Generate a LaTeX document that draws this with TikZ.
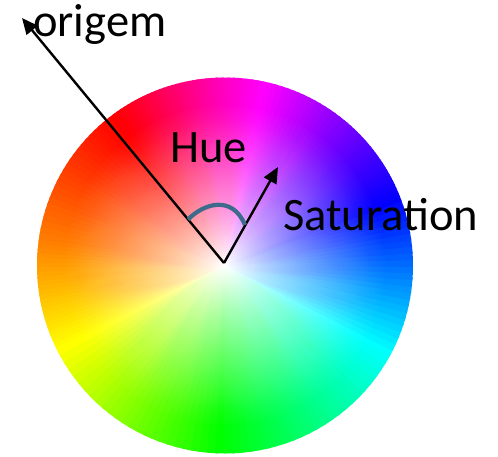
\documentclass[tikz,border=0pt]{standalone}
\usepackage{fontspec}
\setmainfont{Carlito}
\usetikzlibrary{arrows.meta}
\definecolor{huearc}{RGB}{62,106,140}
\tikzset{
  vetor/.style={-{Triangle[length=16pt, width=14pt]}, line width=2.4pt, black},
  rotulo/.style={font=\fontsize{46.5}{56}\selectfont, inner sep=0pt, anchor=base west},
  arcohue/.style={line width=4.2pt, draw=huearc}
}
% fatia da roda: angulo inicial, angulo final, matiz
\newcommand{\fatia}[3]{
  \definecolor{fatiacor}{Hsb}{#3,1,1}
  \fill[fatiacor] (W) -- ++(#1:188) arc[start angle=#1, end angle=#2, radius=188] -- cycle;
}

\begin{document}
\begin{tikzpicture}[x=1pt, y=1pt]
\useasboundingbox (0,0) rectangle (498,456);
\fill[white] (0,0) rectangle (498,456);

\coordinate (W) at (225,190.5);
\coordinate (O) at (224,193);
\coordinate (origemtip) at (22,438);
\coordinate (sattip) at (278,289);

% Roda de cores (matiz por angulo)
\foreach \ha/\hb/\ta/\tb in {0/30/126/172, 30/60/172/206, 60/120/206/267, 120/180/267/331,
    180/240/331/380, 240/270/380/410, 270/320/410/454, 320/360/454/486}{
  \foreach \i in {0,...,23}{
    \pgfmathsetmacro\hcor{\ha+(\hb-\ha)*\i/24}
    \pgfmathsetmacro\angA{\ta+(\tb-\ta)*\i/24}
    \pgfmathsetmacro\angB{\angA+(\tb-\ta)/24+0.8}
    \fatia{\angA}{\angB}{\hcor}
  }
}

% Saturacao: branco no centro
\foreach \k in {80,79,...,1}{
  \pgfmathsetmacro\op{1/\k}
  \pgfmathsetmacro\rr{0.85*188*\k/80}
  \fill[white, fill opacity=\op] (W) circle[radius=\rr];
}

% Vetores
\draw[vetor] (O) -- (origemtip);
\draw[vetor] (O) -- (sattip);

% Arco do Hue
\coordinate (hueA) at (188,236.5);
\coordinate (hueB) at (245,231);
\draw[arcohue] (hueA) .. controls (203,252) and (232,262) .. (hueB);

% Rotulos
\node[rotulo] (origem) at (33,419) {origem};
\node[rotulo] (hue) at (170,294) {Hue};
\node[rotulo] (sat) at (283,226) {Saturation};

\end{tikzpicture}
\end{document}
